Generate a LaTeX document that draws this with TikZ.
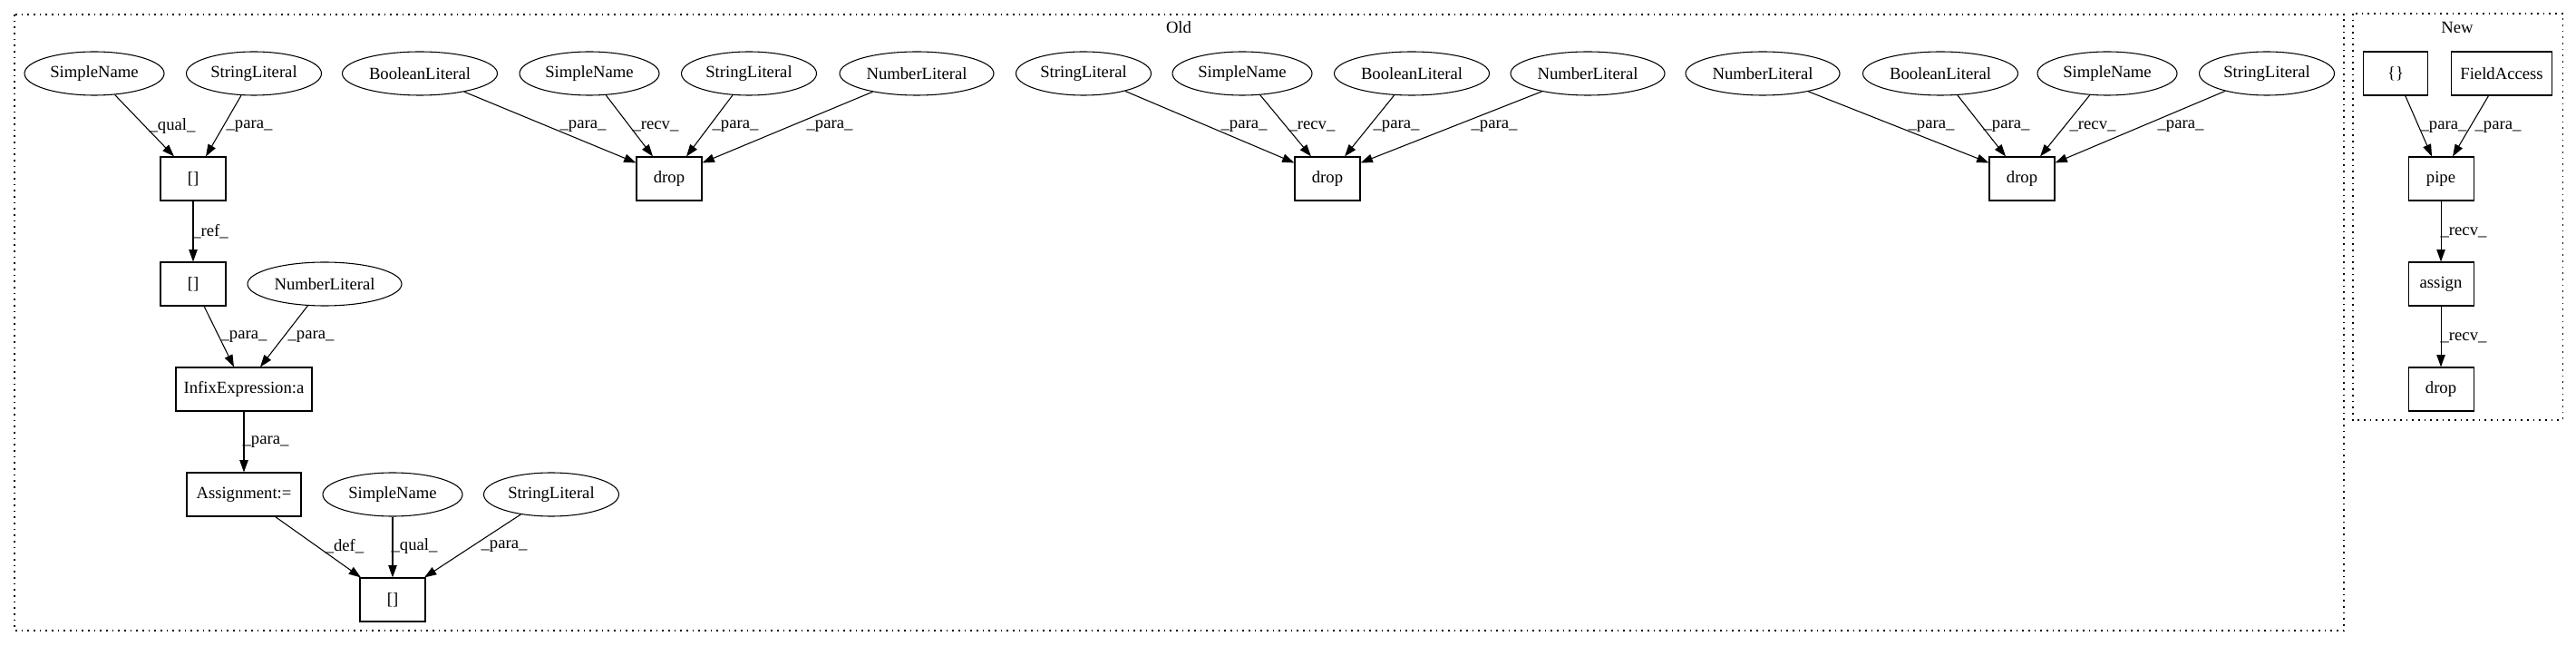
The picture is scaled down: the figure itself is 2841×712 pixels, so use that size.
\documentclass[tikz,border=0pt]{standalone}
\usepackage{fontspec}
\setmainfont{Liberation Serif}
\usetikzlibrary{shapes.geometric,arrows.meta,calc}
\tikzset{
  base/.style={draw, line width=0.8pt, inner sep=0pt, font=\fontsize{14pt}{16pt}\selectfont, minimum height=36pt},
  ell/.style={base, ellipse},
  box/.style={base, rectangle, minimum width=54pt},
  sn/.style={ell, minimum width=115.5pt},
  sl/.style={ell, minimum width=111.75pt},
  bl/.style={ell, minimum width=128.25pt},
  nl/.style={ell, minimum width=127.5pt},
  lbl/.style={inner sep=0pt, font=\fontsize{14pt}{16pt}\selectfont},
  edge/.style={-{Triangle[length=10pt,width=7pt]}, line width=0.8pt},
  cluster/.style={line width=0.8pt, dash pattern=on 1.2pt off 3.8pt}
}
\begin{document}
\begin{tikzpicture}[x=0.75pt,y=-0.75pt]
\useasboundingbox (0,0) rectangle (2841,712);
% clusters
\draw[cluster] (16,16) rectangle (2585,695);
\draw[cluster] (2595,15) rectangle (2826,463);
\node[lbl] (oldt) at (1300,30) {Old};
\node[lbl] (newt) at (2710,30) {New};
% group 1
\node[sn] (g1sn) at (104,81) {SimpleName};
\node[sl] (g1sl) at (280,81) {StringLiteral};
\node[box] (g1b1) at (213,197) {[]};
\node[box] (g1b2) at (213,313) {[]};
\node[nl] (g1nl) at (358,313) {NumberLiteral};
\node[box, minimum width=112.5pt] (g1inf) at (269,429) {InfixExpression:a};
\node[box, minimum width=94.5pt] (g1asg) at (269,545) {Assignment:=};
\node[sn] (g1sn2) at (433,545) {SimpleName};
\node[sl] (g1sl2) at (608,545) {StringLiteral};
\node[box] (g1b3) at (433,661) {[]};
\draw[edge] (g1sn) -- ($(g1b1.north)+(-21,0)$);
\draw[edge] (g1sl) -- ($(g1b1.north)+(14,0)$);
\draw[edge] (g1b1) -- (g1b2);
\draw[edge] (g1b2) -- ($(g1inf.north)+(-11,0)$);
\draw[edge] (g1nl) -- ($(g1inf.north)+(18,0)$);
\draw[edge] (g1inf) -- (g1asg);
\draw[edge] (g1asg) -- ($(g1b3.north)+(-35,0)$);
\draw[edge] (g1sn2) -- (g1b3);
\draw[edge] (g1sl2) -- ($(g1b3.north)+(35,0)$);
\node[lbl] (l1) at (190,139) {\_qual\_};
\node[lbl] (l2) at (275,139) {\_para\_};
\node[lbl] (l3) at (232,255) {\_ref\_};
\node[lbl] (l4) at (269,371) {\_para\_};
\node[lbl] (l5) at (343,371) {\_para\_};
\node[lbl] (l6) at (293,487) {\_para\_};
\node[lbl] (l7) at (380,602) {\_def\_};
\node[lbl] (l8) at (457,602) {\_qual\_};
\node[lbl] (l9) at (556,602) {\_para\_};
% group 2
\node[bl] (g2bl) at (463,81) {BooleanLiteral};
\node[sn] (g2sn) at (650,81) {SimpleName};
\node[sl] (g2sl) at (826,81) {StringLiteral};
\node[nl] (g2nl) at (1011,81) {NumberLiteral};
\node[box] (g2d) at (738,197) {drop};
\draw[edge] (g2bl) -- ($(g2d.north west)+(0,7)$);
\draw[edge] (g2sn) -- ($(g2d.north)+(-18,0)$);
\draw[edge] (g2sl) -- ($(g2d.north)+(19,0)$);
\draw[edge] (g2nl) -- ($(g2d.north east)+(0,7)$);
\node[lbl] (l10) at (643,139) {\_para\_};
\node[lbl] (l11) at (723,139) {\_recv\_};
\node[lbl] (l12) at (811,139) {\_para\_};
\node[lbl] (l13) at (915,139) {\_para\_};
% group 3
\node[sl] (g3sl) at (1195,81) {StringLiteral};
\node[sn] (g3sn) at (1370,81) {SimpleName};
\node[bl] (g3bl) at (1557,81) {BooleanLiteral};
\node[nl] (g3nl) at (1751,81) {NumberLiteral};
\node[box] (g3d) at (1464,197) {drop};
\draw[edge] (g3sl) -- ($(g3d.north west)+(0,7)$);
\draw[edge] (g3sn) -- ($(g3d.north)+(-18,0)$);
\draw[edge] (g3bl) -- ($(g3d.north)+(19,0)$);
\draw[edge] (g3nl) -- ($(g3d.north east)+(0,7)$);
\node[lbl] (l14) at (1372,139) {\_para\_};
\node[lbl] (l15) at (1447,139) {\_recv\_};
\node[lbl] (l16) at (1540,139) {\_para\_};
\node[lbl] (l17) at (1648,139) {\_para\_};
% group 4
\node[nl] (g4nl) at (1944,81) {NumberLiteral};
\node[bl] (g4bl) at (2140,81) {BooleanLiteral};
\node[sn] (g4sn) at (2324,81) {SimpleName};
\node[sl] (g4sl) at (2500,81) {StringLiteral};
\node[box] (g4d) at (2230,197) {drop};
\draw[edge] (g4nl) -- ($(g4d.north west)+(0,7)$);
\draw[edge] (g4bl) -- ($(g4d.north)+(-18,0)$);
\draw[edge] (g4sn) -- ($(g4d.north)+(20,0)$);
\draw[edge] (g4sl) -- ($(g4d.north east)+(0,7)$);
\node[lbl] (l18) at (2130,139) {\_para\_};
\node[lbl] (l19) at (2213,139) {\_para\_};
\node[lbl] (l20) at (2308,139) {\_recv\_};
\node[lbl] (l21) at (2405,139) {\_para\_};
% new
\node[box, minimum width=53.25pt] (nb) at (2642,81) {\{\}};
\node[box, minimum width=83.25pt] (nfa) at (2759,81) {FieldAccess};
\node[box] (np) at (2692,197) {pipe};
\node[box] (na) at (2692,313) {assign};
\node[box] (nd) at (2692,429) {drop};
\draw[edge] (nb) -- ($(np.north)+(-10,0)$);
\draw[edge] (nfa) -- ($(np.north)+(13,0)$);
\draw[edge] (np) -- (na);
\draw[edge] (na) -- (nd);
\node[lbl] (l22) at (2695,140) {\_para\_};
\node[lbl] (l23) at (2755,140) {\_para\_};
\node[lbl] (l24) at (2717,256) {\_recv\_};
\node[lbl] (l25) at (2717,372) {\_recv\_};
\end{tikzpicture}
\end{document}
